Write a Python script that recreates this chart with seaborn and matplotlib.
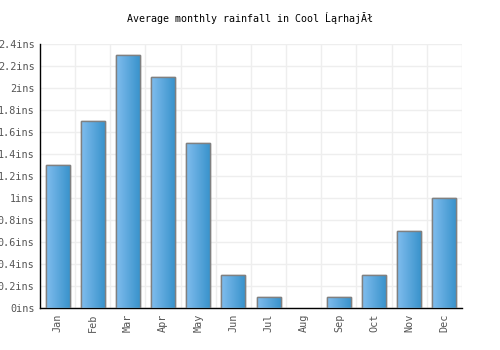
import numpy as np
import pandas as pd
import seaborn as sns
import matplotlib.pyplot as plt
from matplotlib.colors import LinearSegmentedColormap

meses = ['Jan', 'Feb', 'Mar', 'Apr', 'May', 'Jun', 'Jul', 'Aug', 'Sep', 'Oct', 'Nov', 'Dec']
lluvia = [1.3, 1.7, 2.3, 2.1, 1.5, 0.3, 0.1, 0.0, 0.1, 0.3, 0.7, 1.0]
ticks_y = [0, 0.2, 0.4, 0.6, 0.8, 1.0, 1.2, 1.4, 1.6, 1.8, 2.0, 2.2, 2.4]
etiquetas_y = ['0ins', '0.2ins', '0.4ins', '0.6ins', '0.8ins', '1ins', '1.2ins',
               '1.4ins', '1.6ins', '1.8ins', '2ins', '2.2ins', '2.4ins']
titulo = 'Average monthly rainfall in Cool ĹąrhajĂł'

sns.set_theme(style='white')
plt.rcParams['font.family'] = ['DejaVu Sans Mono', 'DejaVu Sans']

df = pd.DataFrame({'mes': meses, 'lluvia': lluvia})

fig = plt.figure(figsize=(5, 3.5), dpi=100)
ax = fig.add_axes([0.08, 0.12, 0.844, 0.754])

sns.barplot(data=df, x='mes', y='lluvia', ax=ax, width=0.68, color='#5aa8e0',
            edgecolor='#808080', linewidth=1.0, zorder=3)

# degradado horizontal dentro de cada barra
cmap = LinearSegmentedColormap.from_list('azul', ['#80bdee', '#3a93cc'])
grad = np.linspace(0, 1, 64).reshape(1, -1)
for p in ax.patches:
    x0, y0 = p.get_x(), p.get_y()
    w, h = p.get_width(), p.get_height()
    if h <= 0:
        p.set_visible(False)
        continue
    im = ax.imshow(grad, cmap=cmap, aspect='auto', extent=[x0, x0 + w, y0, y0 + h],
                   zorder=3.5, interpolation='bilinear')
    im.set_clip_path(p)
    borde = plt.Rectangle((x0, y0), w, h, fill=False, edgecolor='#808080',
                          linewidth=1.0, zorder=4)
    ax.add_patch(borde)

ax.set_xlim(-0.5, len(meses) - 0.5)
ax.set_ylim(0, 2.4)
ax.set_yticks(ticks_y)
ax.set_yticklabels(etiquetas_y)
ax.set_xticks(np.arange(len(meses)) + 0.5, minor=True)
ax.grid(True, axis='y', color='#eeeeee', linewidth=1, zorder=0)
ax.grid(True, axis='x', which='minor', color='#eeeeee', linewidth=1, zorder=0)
ax.tick_params(axis='x', which='minor', length=0)
ax.tick_params(axis='both', which='major', length=0, labelsize=7.3, labelcolor='#555555', pad=4)
ax.set_xticklabels(meses, rotation=90)
ax.set_xlabel('')
ax.set_ylabel('')

for s in ['top', 'right']:
    ax.spines[s].set_visible(False)
ax.spines['left'].set_color('black')
ax.spines['bottom'].set_color('black')
ax.spines['left'].set_linewidth(1)
ax.spines['bottom'].set_linewidth(1)

fig.suptitle(titulo, fontsize=7.2, y=0.965, color='black')

fig.savefig('out.png', dpi=100)
